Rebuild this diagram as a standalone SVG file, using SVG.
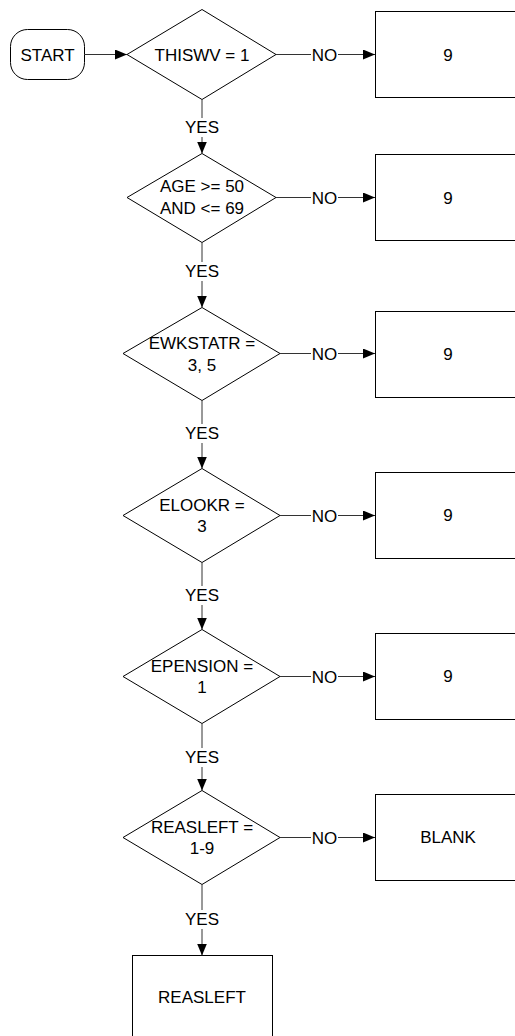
<svg xmlns="http://www.w3.org/2000/svg" width="515" height="1036" viewBox="0 0 515 1036">
<defs>
<marker id="arr" markerWidth="12" markerHeight="10" refX="12" refY="5" orient="auto" markerUnits="userSpaceOnUse">
<path d="M0,0 L12,5 L0,10 Z" fill="#000"/>
</marker>
<style>
.s{fill:#fff;stroke:#000;stroke-width:1}
.c{fill:none;stroke:#333;stroke-width:1}
.t{font-family:"Liberation Sans",Arial,sans-serif;font-size:17px;fill:#000;text-anchor:middle}
</style>
</defs>
<rect width="515" height="1036" fill="#fff"/>
<g id="start"><rect class="s" x="10.5" y="29.5" width="74" height="50" rx="17"/><text class="t" x="47.5" y="60.5">START</text></g>
<g id="d1"><polygon class="s" points="127,54.5 202,9.5 276,54.5 202,99.5"/><text class="t" x="202" y="60.5">THISWV = 1</text></g>
<g id="b1"><rect class="s" x="375.5" y="11.5" width="150" height="86"/><text class="t" x="448" y="60.5">9</text></g>
<g id="d2"><polygon class="s" points="127,197.5 202,153.5 276,197.5 202,242.5"/><text class="t" x="202" y="192">AGE &gt;= 50</text><text class="t" x="202" y="214">AND &lt;= 69</text></g>
<g id="b2"><rect class="s" x="375.5" y="154.5" width="150" height="86"/><text class="t" x="448" y="203.5">9</text></g>
<g id="d3"><polygon class="s" points="123,353.5 202,307.5 280,353.5 202,400.5"/><text class="t" x="202" y="349">EWKSTATR =</text><text class="t" x="202" y="371">3, 5</text></g>
<g id="b3"><rect class="s" x="375.5" y="311.5" width="150" height="86"/><text class="t" x="448" y="360">9</text></g>
<g id="d4"><polygon class="s" points="123,515.5 202,468.5 280,515.5 202,562.5"/><text class="t" x="202" y="511">ELOOKR =</text><text class="t" x="202" y="532">3</text></g>
<g id="b4"><rect class="s" x="375.5" y="472.5" width="150" height="86"/><text class="t" x="448" y="521">9</text></g>
<g id="d5"><polygon class="s" points="123,676.5 202,629.5 280,676.5 202,723.5"/><text class="t" x="202" y="672">EPENSION =</text><text class="t" x="202" y="693">1</text></g>
<g id="b5"><rect class="s" x="375.5" y="633.5" width="150" height="86"/><text class="t" x="448" y="682">9</text></g>
<g id="d6"><polygon class="s" points="123,837.5 202,790.5 280,837.5 202,884.5"/><text class="t" x="202" y="833">REASLEFT =</text><text class="t" x="202" y="854">1-9</text></g>
<g id="b6"><rect class="s" x="375.5" y="794.5" width="150" height="86"/><text class="t" x="448" y="843">BLANK</text></g>
<g id="b7"><rect class="s" x="132.5" y="955.5" width="140" height="100"/><text class="t" x="202" y="1003">REASLEFT</text></g>
<g id="connectors">
<line class="c" x1="84" y1="54.5" x2="127" y2="54.5" marker-end="url(#arr)"/>
<line class="c" x1="276" y1="54.5" x2="311" y2="54.5"/><line class="c" x1="338" y1="54.5" x2="375" y2="54.5" marker-end="url(#arr)"/><text class="t" x="324.5" y="60.5">NO</text>
<line class="c" x1="276" y1="197.5" x2="311" y2="197.5"/><line class="c" x1="338" y1="197.5" x2="375" y2="197.5" marker-end="url(#arr)"/><text class="t" x="324.5" y="203.5">NO</text>
<line class="c" x1="280" y1="353.5" x2="311" y2="353.5"/><line class="c" x1="338" y1="353.5" x2="375" y2="353.5" marker-end="url(#arr)"/><text class="t" x="324.5" y="359.5">NO</text>
<line class="c" x1="280" y1="515.5" x2="311" y2="515.5"/><line class="c" x1="338" y1="515.5" x2="375" y2="515.5" marker-end="url(#arr)"/><text class="t" x="324.5" y="521.5">NO</text>
<line class="c" x1="280" y1="676.5" x2="311" y2="676.5"/><line class="c" x1="338" y1="676.5" x2="375" y2="676.5" marker-end="url(#arr)"/><text class="t" x="324.5" y="682.5">NO</text>
<line class="c" x1="280" y1="837.5" x2="311" y2="837.5"/><line class="c" x1="338" y1="837.5" x2="375" y2="837.5" marker-end="url(#arr)"/><text class="t" x="324.5" y="843.5">NO</text>
<line class="c" x1="202" y1="99.5" x2="202" y2="118"/><line class="c" x1="202" y1="137" x2="202" y2="153.5" marker-end="url(#arr)"/><text class="t" x="202" y="133">YES</text>
<line class="c" x1="202" y1="242.5" x2="202" y2="262"/><line class="c" x1="202" y1="281" x2="202" y2="307.5" marker-end="url(#arr)"/><text class="t" x="202" y="277">YES</text>
<line class="c" x1="202" y1="400.5" x2="202" y2="424"/><line class="c" x1="202" y1="443" x2="202" y2="468.5" marker-end="url(#arr)"/><text class="t" x="202" y="439">YES</text>
<line class="c" x1="202" y1="562.5" x2="202" y2="586"/><line class="c" x1="202" y1="605" x2="202" y2="629.5" marker-end="url(#arr)"/><text class="t" x="202" y="601">YES</text>
<line class="c" x1="202" y1="723.5" x2="202" y2="748"/><line class="c" x1="202" y1="767" x2="202" y2="790.5" marker-end="url(#arr)"/><text class="t" x="202" y="763">YES</text>
<line class="c" x1="202" y1="884.5" x2="202" y2="910"/><line class="c" x1="202" y1="929" x2="202" y2="955.5" marker-end="url(#arr)"/><text class="t" x="202" y="925">YES</text>
</g>
</svg>
